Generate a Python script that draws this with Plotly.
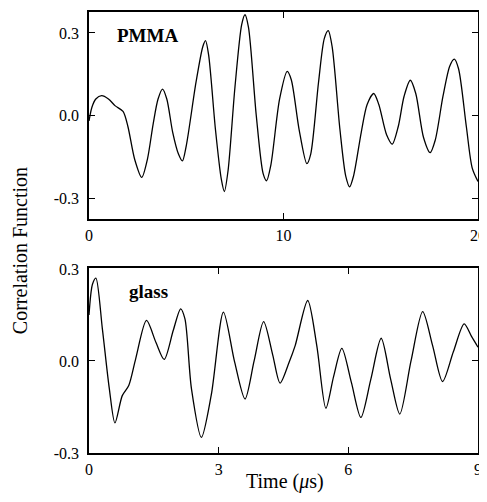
import plotly.graph_objects as go
from plotly.subplots import make_subplots

# PMMA correlation function (time in microseconds)
pmma_t = [0.0, 0.15, 0.35, 0.65, 1.0, 1.35, 1.75, 2.0, 2.35, 2.71, 3.0, 3.3, 3.55, 3.78,
          4.0, 4.3, 4.6, 4.8, 5.0, 5.5, 5.85, 5.99, 6.15, 6.5, 6.8, 6.96, 7.15, 7.5,
          7.85, 8.02, 8.2, 8.6, 8.95, 9.13, 9.35, 9.8, 10.19, 10.4, 10.8, 11.2, 11.4,
          11.8, 12.1, 12.3, 12.5, 12.9, 13.2, 13.4, 13.6, 14.0, 14.3, 14.64, 14.9,
          15.3, 15.59, 15.9, 16.2, 16.52, 16.8, 17.2, 17.54, 17.8, 18.2, 18.55, 18.78,
          19.0, 19.4, 19.7, 20.0]
pmma_c = [-0.02, 0.03, 0.06, 0.072, 0.06, 0.035, 0.015, -0.04, -0.16, -0.225, -0.16,
          -0.03, 0.06, 0.096, 0.06, -0.06, -0.14, -0.165, -0.11, 0.12, 0.25, 0.272,
          0.22, -0.05, -0.23, -0.276, -0.2, 0.1, 0.33, 0.366, 0.32, 0.0, -0.21, -0.237,
          -0.18, 0.06, 0.16, 0.13, -0.05, -0.175, -0.14, 0.12, 0.28, 0.308, 0.25, -0.05,
          -0.22, -0.259, -0.22, -0.06, 0.04, 0.08, 0.04, -0.07, -0.104, -0.04, 0.07,
          0.128, 0.08, -0.08, -0.135, -0.09, 0.07, 0.18, 0.205, 0.17, -0.04, -0.19, -0.24]

# glass correlation function
glass_t = [0.0, 0.08, 0.16, 0.31, 0.47, 0.6, 0.77, 0.92, 1.08, 1.33, 1.55, 1.74, 1.95,
           2.12, 2.22, 2.37, 2.6, 2.83, 3.11, 3.37, 3.61, 3.82, 4.04, 4.25, 4.42, 4.63,
           4.77, 5.06, 5.27, 5.48, 5.66, 5.85, 6.07, 6.29, 6.52, 6.76, 6.98, 7.19, 7.45,
           7.72, 7.95, 8.18, 8.43, 8.68, 8.85, 9.0]
glass_c = [0.15, 0.25, 0.27, 0.104, -0.09, -0.202, -0.113, -0.08, 0.007, 0.132, 0.06,
           0.005, 0.1, 0.17, 0.137, -0.09, -0.249, -0.11, 0.159, -0.004, -0.124, 0.0,
           0.128, 0.02, -0.072, -0.004, 0.05, 0.197, 0.05, -0.154, -0.05, 0.041, -0.07,
           -0.184, -0.06, 0.074, -0.06, -0.173, 0.0, 0.161, 0.05, -0.067, 0.03, 0.121,
           0.08, 0.045]

y_ticks = [-0.3, 0.0, 0.3]
y_ticktext = ["-0.3", "0.0", "0.3"]
pmma_xticks = [0, 10, 20]
glass_xticks = [0, 3, 6, 9]

serif = "Liberation Serif, Times New Roman, serif"

fig = make_subplots(rows=2, cols=1, vertical_spacing=0.111)

fig.add_trace(go.Scatter(x=pmma_t, y=pmma_c, mode="lines",
                         line=dict(color="black", width=1.3, shape="spline", smoothing=0.8),
                         showlegend=False, hoverinfo="skip"), row=1, col=1)
fig.add_trace(go.Scatter(x=glass_t, y=glass_c, mode="lines",
                         line=dict(color="black", width=1.3, shape="spline", smoothing=0.8),
                         showlegend=False, hoverinfo="skip"), row=2, col=1)

axis_style = dict(showline=True, linecolor="black", linewidth=1.6, mirror="ticks",
                  ticks="inside", ticklen=6, tickwidth=1.4, tickcolor="black",
                  showgrid=False, zeroline=False, automargin=False,
                  ticklabeloverflow="allow",
                  tickfont=dict(family=serif, size=16, color="black"))

fig.update_xaxes(axis_style)
fig.update_yaxes(axis_style)

fig.update_xaxes(range=[0, 20], tickvals=pmma_xticks, ticklabelstandoff=1, row=1, col=1)
fig.update_xaxes(range=[0, 9], tickvals=glass_xticks, ticklabelstandoff=1, row=2, col=1)
fig.update_yaxes(range=[-0.376, 0.376], tickvals=y_ticks, ticktext=y_ticktext,
                 ticklabelstandoff=5, row=1, col=1)
fig.update_yaxes(range=[-0.3, 0.303], tickvals=y_ticks, ticktext=y_ticktext,
                 ticklabelstandoff=5, row=2, col=1)

# page body has an 8px margin; keep the figure inside the window so no scrollbars appear
fig.update_layout(
    width=471, height=486,
    margin=dict(l=81, r=1, t=4, b=41),
    plot_bgcolor="white", paper_bgcolor="white",
    font=dict(family=serif, color="black"),
    yaxis=dict(domain=[0.5306, 1.0]),
    yaxis2=dict(domain=[0.0, 0.4195]),
)

fig.add_annotation(x=3.03, y=0.29, xref="x", yref="y", text="<b>PMMA</b>",
                   showarrow=False, font=dict(family=serif, size=19, color="black"))
fig.add_annotation(x=1.37, y=0.225, xref="x2", yref="y2", text="<b>glass</b>",
                   showarrow=False, font=dict(family=serif, size=19, color="black"))
fig.add_annotation(x=-0.1774, y=0.46, xref="paper", yref="paper",
                   xanchor="center", yanchor="middle",
                   text="Correlation Function", textangle=-90, showarrow=False,
                   font=dict(family=serif, size=20, color="black"))
fig.add_annotation(x=0.504, y=-0.064, xref="paper", yref="paper",
                   xanchor="center", yanchor="middle",
                   text="Time (<i>μ</i>s)", showarrow=False,
                   font=dict(family=serif, size=20, color="black"))

fig.write_html("out.html")
